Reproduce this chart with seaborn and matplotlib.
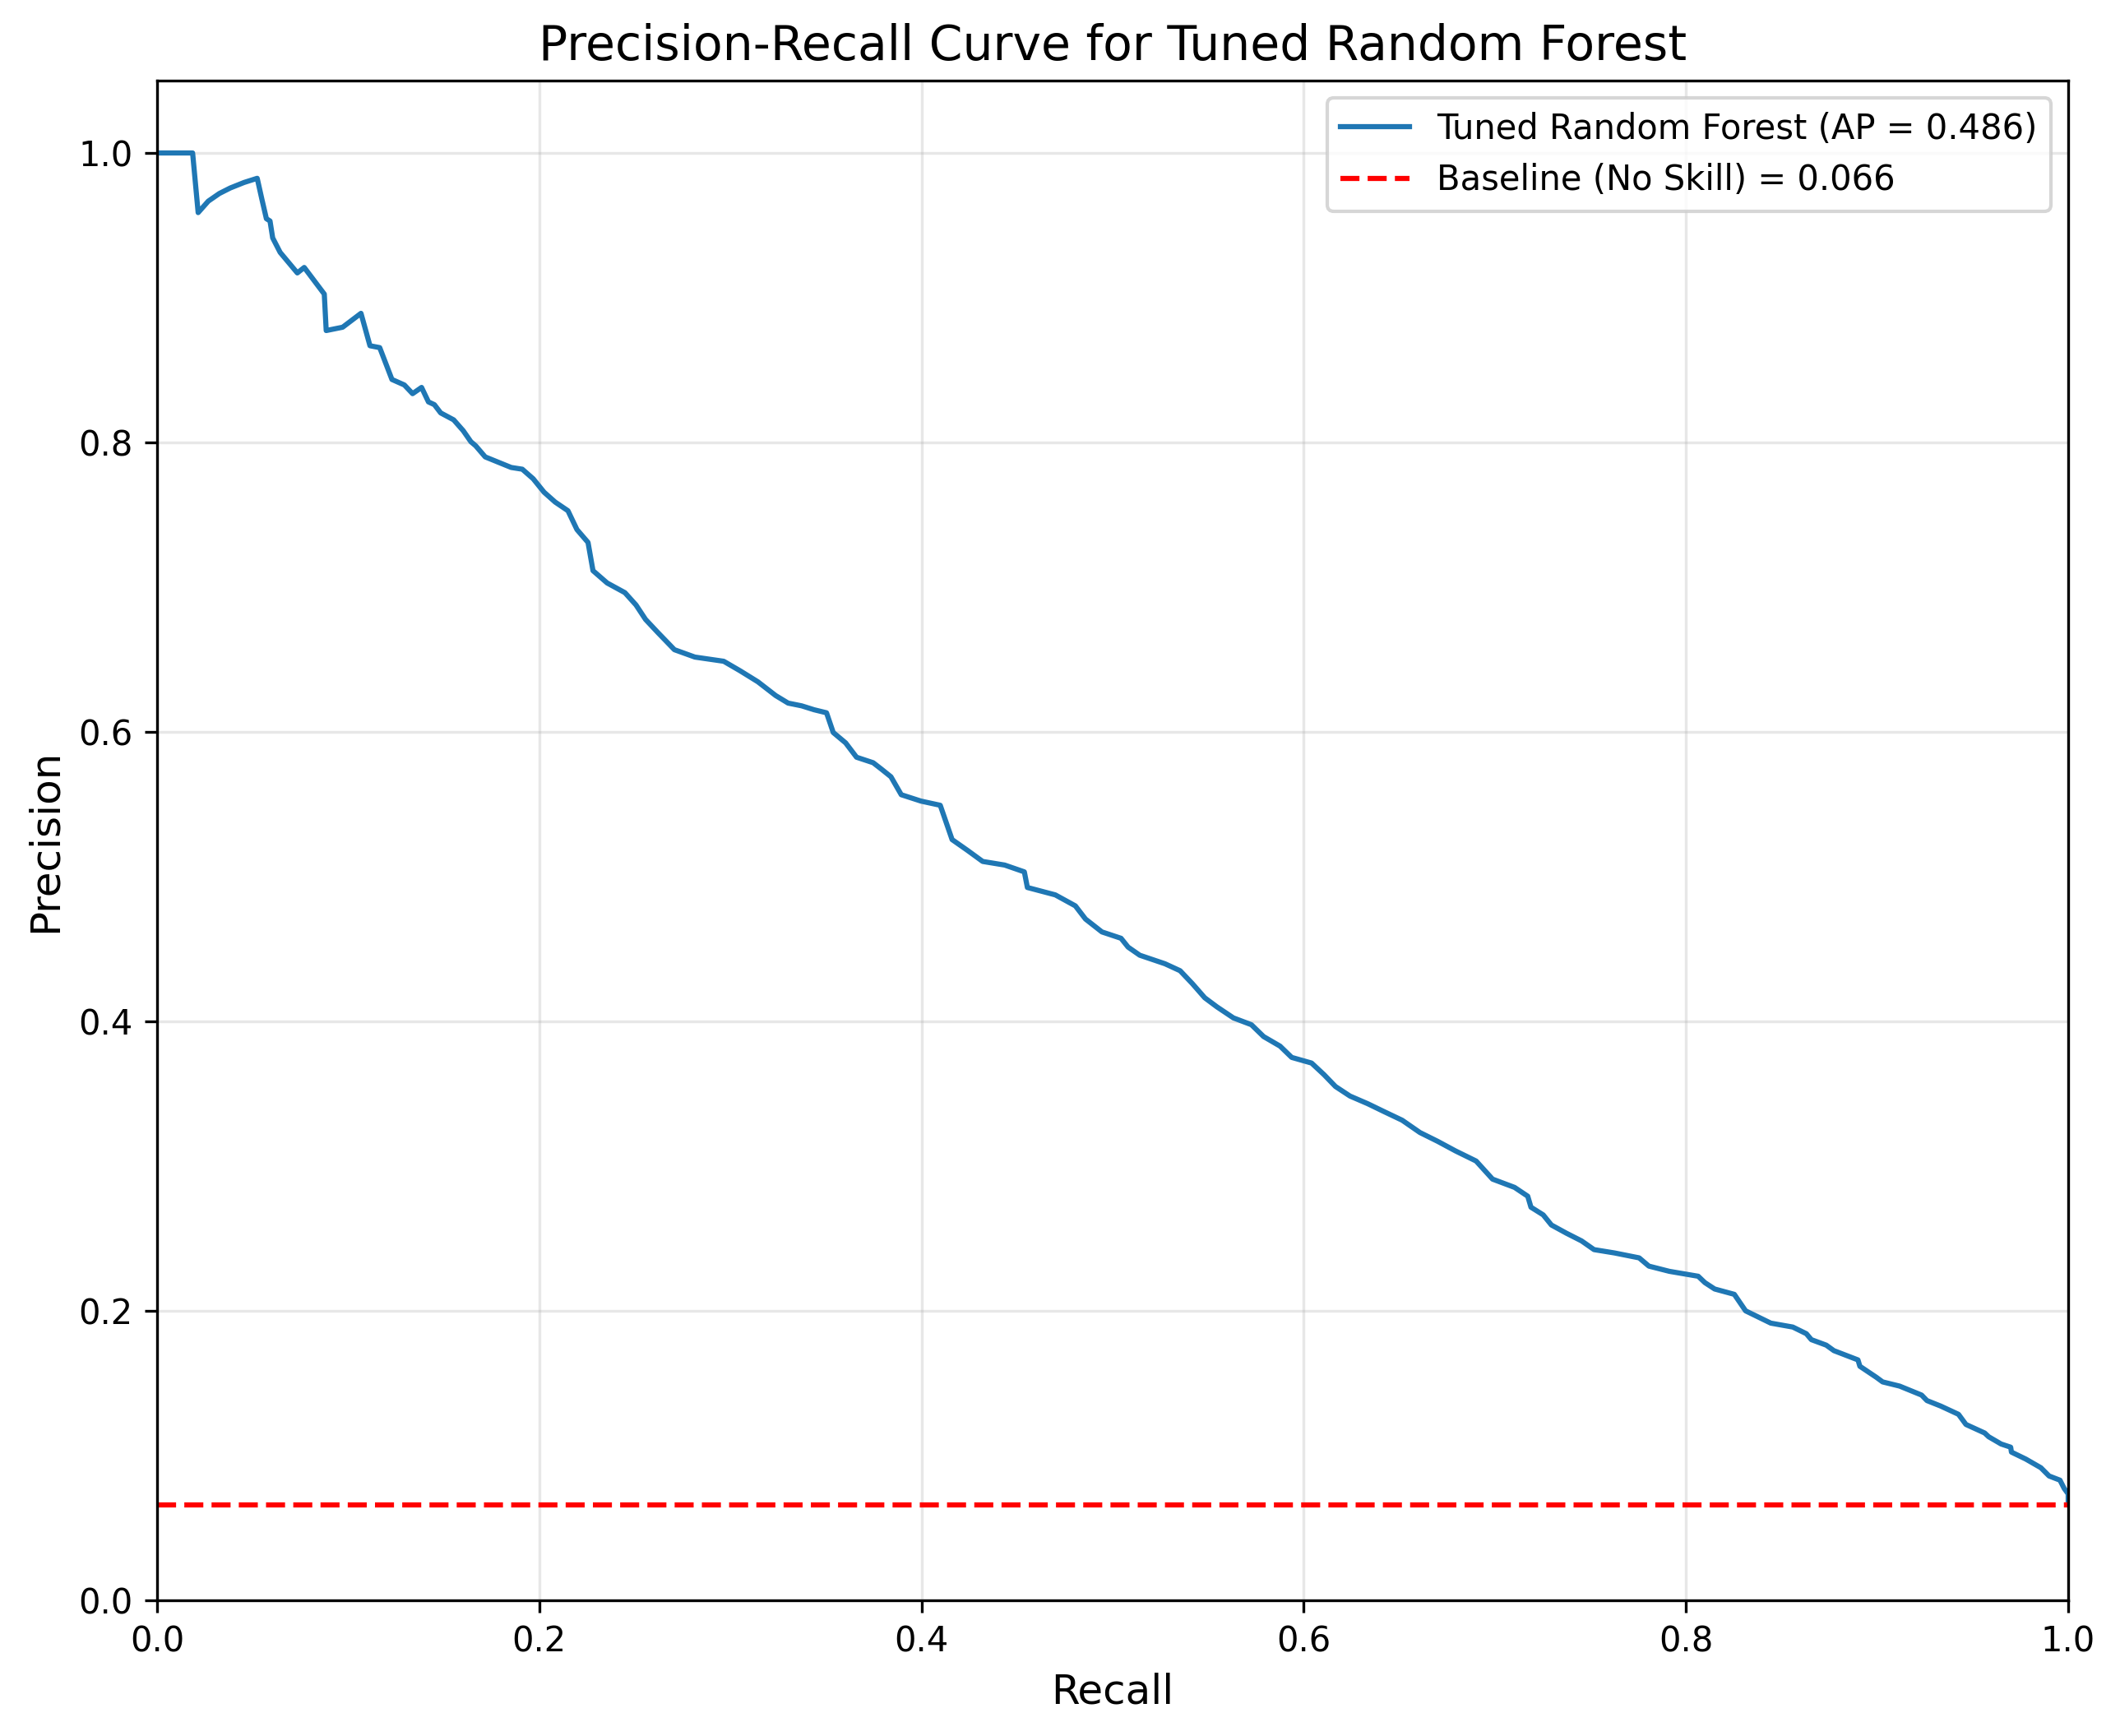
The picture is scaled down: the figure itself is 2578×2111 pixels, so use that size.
import matplotlib
matplotlib.use("Agg")
import matplotlib.pyplot as plt
import seaborn as sns
import pandas as pd

recall = [0.0, 0.0186, 0.0215, 0.0268, 0.0326, 0.0383, 0.0455, 0.0524, 0.0548, 0.0572,
          0.0591, 0.0605, 0.0644, 0.0734, 0.0770, 0.0875, 0.0885, 0.0971, 0.1067, 0.1114,
          0.1165, 0.1229, 0.1294, 0.1337, 0.1384, 0.1420, 0.1451, 0.1484, 0.1552, 0.1602,
          0.1642, 0.1667, 0.1717, 0.1853, 0.1911, 0.1968, 0.2025, 0.2083, 0.2150, 0.2197,
          0.2255, 0.2281, 0.2355, 0.2448, 0.2506, 0.2556, 0.2620, 0.2707, 0.2814, 0.2965,
          0.3051, 0.3144, 0.3237, 0.3302, 0.3373, 0.3438, 0.3503, 0.3538, 0.3603, 0.3660,
          0.3747, 0.3790, 0.3840, 0.3894, 0.3997, 0.4098, 0.4160, 0.4241, 0.4320, 0.4435,
          0.4538, 0.4554, 0.4700, 0.4805, 0.4858, 0.4944, 0.5044, 0.5081, 0.5142, 0.5274,
          0.5353, 0.5417, 0.5482, 0.5546, 0.5632, 0.5726, 0.5790, 0.5876, 0.5937, 0.6041,
          0.6106, 0.6166, 0.6242, 0.6335, 0.6421, 0.6515, 0.6608, 0.6701, 0.6794, 0.6902,
          0.6988, 0.7103, 0.7172, 0.7189, 0.7253, 0.7296, 0.7375, 0.7454, 0.7519, 0.7626,
          0.7755, 0.7806, 0.7913, 0.8064, 0.8099, 0.8150, 0.8253, 0.8312, 0.8444, 0.8559,
          0.8630, 0.8656, 0.8734, 0.8774, 0.8900, 0.8910, 0.8996, 0.9029, 0.9118, 0.9233,
          0.9261, 0.9333, 0.9426, 0.9465, 0.9563, 0.9584, 0.9649, 0.9699, 0.9703, 0.9778,
          0.9857, 0.9900, 0.9957, 0.9979, 1.0, 1.0]

precision = [1.0, 1.0, 0.9588, 0.9667, 0.9720, 0.9758, 0.9796, 0.9825, 0.9683, 0.9546,
             0.9530, 0.9413, 0.9313, 0.9171, 0.9209, 0.9025, 0.8773, 0.8796, 0.8892, 0.8668,
             0.8655, 0.8435, 0.8397, 0.8337, 0.8380, 0.8280, 0.8261, 0.8204, 0.8156, 0.8081,
             0.8005, 0.7977, 0.7900, 0.7827, 0.7815, 0.7749, 0.7656, 0.7588, 0.7528, 0.7398,
             0.7309, 0.7114, 0.7029, 0.6962, 0.6877, 0.6777, 0.6687, 0.6568, 0.6517, 0.6488,
             0.6422, 0.6346, 0.6251, 0.6199, 0.6180, 0.6153, 0.6132, 0.5996, 0.5924, 0.5825,
             0.5787, 0.5743, 0.5690, 0.5566, 0.5522, 0.5493, 0.5256, 0.5181, 0.5105, 0.5080,
             0.5033, 0.4925, 0.4874, 0.4798, 0.4707, 0.4618, 0.4574, 0.4513, 0.4457, 0.4398,
             0.4350, 0.4261, 0.4163, 0.4100, 0.4024, 0.3977, 0.3895, 0.3829, 0.3751, 0.3712,
             0.3632, 0.3550, 0.3484, 0.3431, 0.3376, 0.3317, 0.3232, 0.3171, 0.3105, 0.3035,
             0.2910, 0.2853, 0.2792, 0.2716, 0.2663, 0.2593, 0.2536, 0.2483, 0.2423, 0.2400,
             0.2366, 0.2309, 0.2273, 0.2239, 0.2195, 0.2151, 0.2114, 0.2000, 0.1915, 0.1888,
             0.1842, 0.1801, 0.1763, 0.1725, 0.1661, 0.1617, 0.1541, 0.1509, 0.1480, 0.1418,
             0.1380, 0.1342, 0.1285, 0.1215, 0.1156, 0.1130, 0.1080, 0.1058, 0.1024, 0.0976,
             0.0916, 0.0859, 0.0830, 0.0773, 0.0735, 0.066]

ap_score = 0.486
baseline = 0.066
model_label = f"Tuned Random Forest (AP = {ap_score:.3f})"
baseline_label = f"Baseline (No Skill) = {baseline:.3f}"

df = pd.DataFrame({"Recall": recall, "Precision": precision})

fig = plt.figure(figsize=(2578 / 300, 2111 / 300), dpi=300)
ax = fig.add_axes([191 / 2578, 165 / 2111, 2324 / 2578, 1848 / 2111])

sns.lineplot(data=df, x="Recall", y="Precision", ax=ax, sort=False, estimator=None,
             color="#1f77b4", linewidth=1.5, label=model_label)
ax.axhline(baseline, color="red", linestyle="--", linewidth=1.5, label=baseline_label)

ax.set_xlim(0, 1)
ax.set_ylim(0, 1.05)
ax.set_xlabel("Recall", fontsize=12)
ax.set_ylabel("Precision", fontsize=12)
ax.set_title("Precision-Recall Curve for Tuned Random Forest", fontsize=14)
ax.grid(True, alpha=0.3)
ax.legend(loc="upper right", fontsize=10)

fig.savefig("out.png", dpi=300)
